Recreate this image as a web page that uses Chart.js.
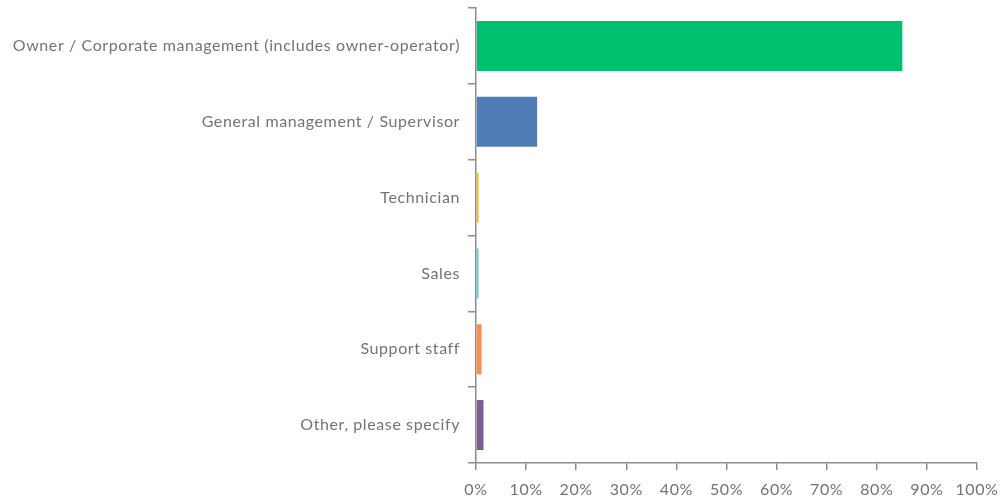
<!DOCTYPE html>
<html>
<head>
<meta charset="utf-8">
<script src="https://cdn.jsdelivr.net/npm/chart.js@4"></script>
<style>
  html, body { margin: 0; padding: 0; background: #fff; }
  #wrap { width: 1004px; height: 502px; }
</style>
</head>
<body>
<div id="wrap"><canvas id="chart"></canvas></div>
<script>
const roles = [
    "Owner / Corporate management (includes owner-operator)",
    "General management / Supervisor",
    "Technician",
    "Sales",
    "Support staff",
    "Other, please specify"
];
const shares = [85.1, 12.2, 0.5, 0.5, 1.1, 1.5];
const barColors = ["#00bf6f", "#507cb6", "#f9be00", "#6bc8cd", "#ff8b4f", "#7d5e90"];
const tickLabels = ["0%", "10%", "20%", "30%", "40%", "50%", "60%", "70%", "80%", "90%", "100%"];

const axisGrey = "#8c8c8c";
const textGrey = "#737373";

// wider letter spacing for all text drawn on the canvas
const spacing = {
    id: 'spacing',
    beforeUpdate(chart) { chart.ctx.letterSpacing = '0.6px'; },
    beforeDraw(chart) { chart.ctx.letterSpacing = '0.6px'; }
};

function drawChart(canvas) {
    const ctx = document.getElementById(canvas).getContext('2d');

    return new Chart(ctx, {
        type: 'bar',
        data: {
            labels: roles,
            datasets: [{
                data: shares,
                backgroundColor: barColors,
                borderWidth: 0,
                categoryPercentage: 1.0,
                barPercentage: 0.66
            }]
        },
        options: {
            indexAxis: 'y',
            responsive: true,
            maintainAspectRatio: false,
            animation: false,
            layout: {
                padding: { top: 8, right: 27, bottom: 0, left: 0 }
            },
            scales: {
                x: {
                    min: 0,
                    max: 100,
                    afterFit: function(scale) {
                        scale.height = 39;
                        scale.paddingLeft = 0;
                        scale.paddingRight = 0;
                    },
                    afterBuildTicks: function(scale) {
                        scale.ticks = tickLabels.map((t, i) => ({ value: i * 10 }));
                    },
                    ticks: {
                        callback: function(value, index) { return tickLabels[index]; },
                        color: textGrey,
                        font: { family: 'Lato', size: 16 },
                        padding: 10,
                        maxRotation: 0
                    },
                    grid: {
                        drawOnChartArea: false,
                        drawTicks: true,
                        tickLength: 7,
                        color: axisGrey,
                        lineWidth: 1.5
                    },
                    border: { color: axisGrey, width: 1.5 }
                },
                y: {
                    afterFit: function(scale) {
                        scale.width = 476;
                        scale.paddingTop = 0;
                        scale.paddingBottom = 0;
                    },
                    ticks: {
                        color: textGrey,
                        font: { family: 'Lato', size: 16 },
                        padding: 8
                    },
                    grid: {
                        offset: true,
                        drawOnChartArea: false,
                        drawTicks: true,
                        tickLength: 8,
                        color: axisGrey,
                        lineWidth: 1.5
                    },
                    border: { color: axisGrey, width: 1.5 }
                }
            },
            plugins: {
                legend: { display: false },
                tooltip: { enabled: false }
            }
        },
        plugins: [spacing]
    });
}

drawChart('chart');
</script>
</body>
</html>
